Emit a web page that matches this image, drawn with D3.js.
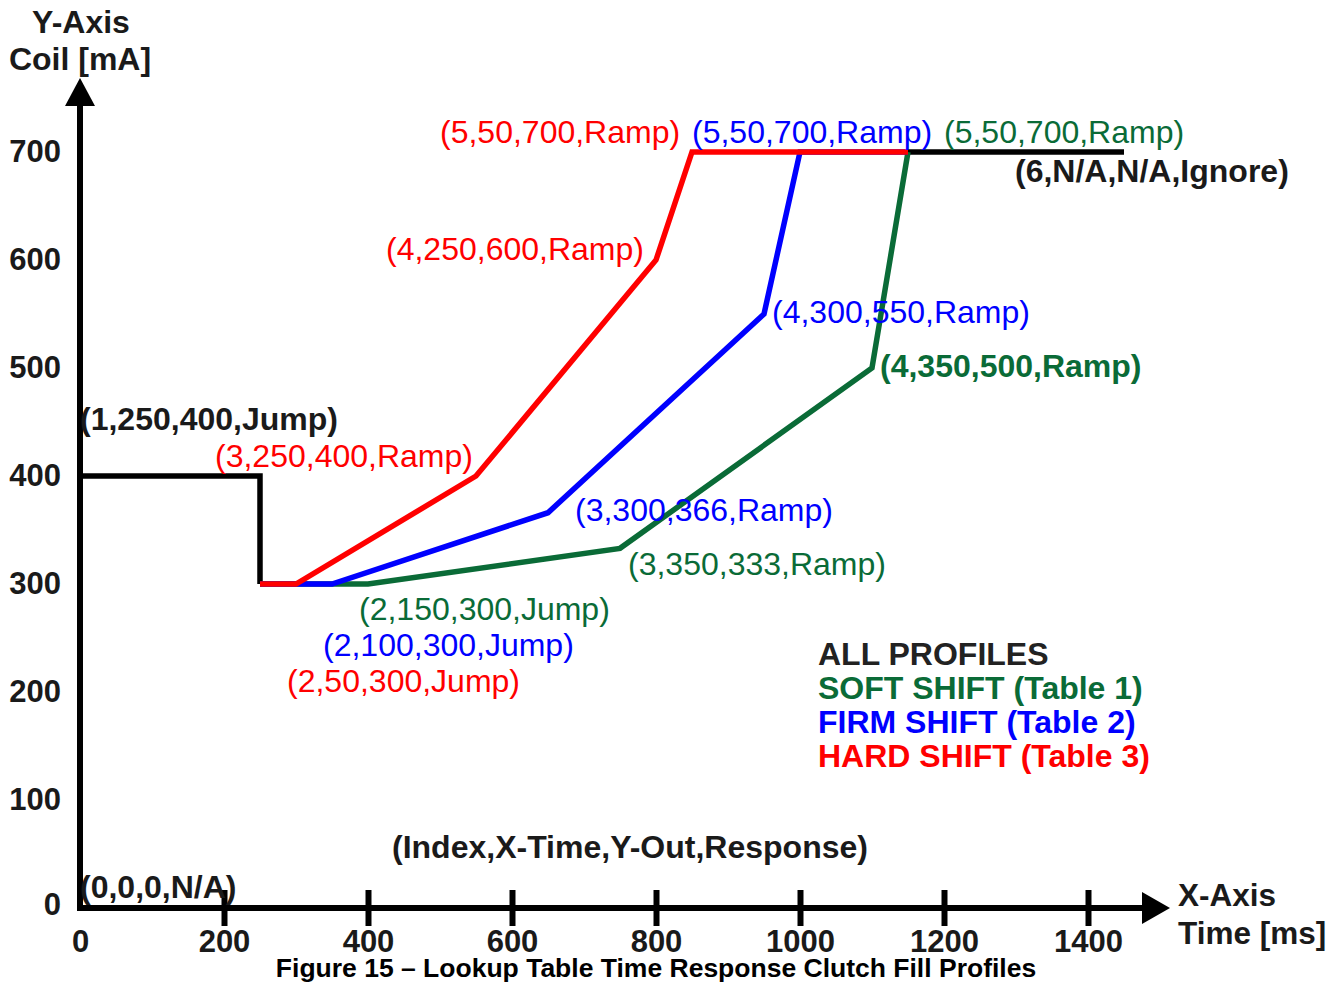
<!DOCTYPE html>
<html><head><meta charset="utf-8">
<script src="https://cdn.jsdelivr.net/npm/d3@7"></script>
<style>body{margin:0;background:#fff}svg{display:block}text{font-family:"Liberation Sans",Arial,sans-serif}</style>
</head><body>
<svg id="c" width="1343" height="984"></svg>
<script>
// ---- data ----
const xTicks = [0,200,400,600,800,1000,1200,1400];
const yTicks = [0,100,200,300,400,500,600,700];
const blackPre = [[0,0],[0,400],[250,400],[250,300]];
const blackPost = [[1150,700],[1450,700]];
const softShift = [[250,300],[400,300],[750,333],[1100,500],[1150,700]];
const firmShift = [[250,300],[350,300],[650,366],[950,550],[1000,700],[1150,700]];
const hardShift = [[250,300],[300,300],[550,400],[800,600],[850,700],[1150,700]];
const seriesColors = {soft:"#0a6b37", firm:"#0000ff", hard:"#ff0000", black:"#000"};
// annotation labels
const labels = [
  {t:"(0,0,0,N/A)", c:"black", b:true, x:80, y:898},
  {t:"(1,250,400,Jump)", c:"black", b:true, x:80, y:430},
  {t:"(3,250,400,Ramp)", c:"hard", b:false, x:215, y:467},
  {t:"(2,150,300,Jump)", c:"soft", b:false, x:359, y:620},
  {t:"(2,100,300,Jump)", c:"firm", b:false, x:323, y:656},
  {t:"(2,50,300,Jump)", c:"hard", b:false, x:287, y:692},
  {t:"(3,300,366,Ramp)", c:"firm", b:false, x:575, y:521},
  {t:"(3,350,333,Ramp)", c:"soft", b:false, x:628, y:575},
  {t:"(4,250,600,Ramp)", c:"hard", b:false, x:386, y:260},
  {t:"(4,300,550,Ramp)", c:"firm", b:false, x:772, y:323},
  {t:"(4,350,500,Ramp)", c:"soft", b:true, x:880, y:377},
  {t:"(5,50,700,Ramp)", c:"hard", b:false, x:440, y:143},
  {t:"(5,50,700,Ramp)", c:"firm", b:false, x:692, y:143},
  {t:"(5,50,700,Ramp)", c:"soft", b:false, x:944, y:143},
  {t:"(6,N/A,N/A,Ignore)", c:"black", b:true, x:1015, y:182},
  {t:"(Index,X-Time,Y-Out,Response)", c:"black", b:true, x:392, y:858}
];
const legend = [
  {t:"ALL PROFILES", c:"black", b:true},
  {t:"SOFT SHIFT (Table 1)", c:"soft", b:true},
  {t:"FIRM SHIFT (Table 2)", c:"firm", b:true},
  {t:"HARD SHIFT (Table 3)", c:"hard", b:true}
];

const svg = d3.select("#c");
const x = d3.scaleLinear().domain([0,1400]).range([80,1088]);
const y = d3.scaleLinear().domain([0,700]).range([908,152]);
const txtCol = k => k==="black" ? "#1a1a1a" : seriesColors[k];

// axes lines with arrows
svg.append("line").attr("x1",x(0)).attr("x2",x(0)).attr("y1",y(0)+3).attr("y2",100)
  .attr("stroke","#000").attr("stroke-width",6);
svg.append("path").attr("d",`M${x(0)},78 L${x(0)-15},106 L${x(0)+15},106 Z`).attr("fill","#000");
svg.append("line").attr("x1",x(0)-3).attr("x2",1145).attr("y1",y(0)).attr("y2",y(0))
  .attr("stroke","#000").attr("stroke-width",6);
svg.append("path").attr("d",`M1170,${y(0)} L1142,${y(0)-16} L1142,${y(0)+16} Z`).attr("fill","#000");

// x axis ticks via d3 axis
const xa = svg.append("g").attr("transform",`translate(0,${y(0)})`)
  .call(d3.axisBottom(x).tickValues(xTicks).tickSize(18).tickPadding(4).tickFormat(d3.format("d")));
xa.select(".domain").remove();
xa.selectAll(".tick line").attr("y1",-18).attr("y2",18).attr("stroke","#000").attr("stroke-width",6)
  .filter(d=>d===0).remove();
xa.selectAll(".tick text").attr("font-size",31).attr("font-weight","bold").attr("fill","#1a1a1a")
  .attr("font-family","Liberation Sans, Arial, sans-serif").attr("dy","0.71em");

const ya = svg.append("g").attr("transform",`translate(${x(0)},0)`)
  .call(d3.axisLeft(y).tickValues(yTicks).tickSize(0).tickPadding(19).tickFormat(d3.format("d")));
ya.select(".domain").remove();
ya.selectAll(".tick text").attr("font-size",31).attr("font-weight","bold").attr("fill","#1a1a1a")
  .attr("font-family","Liberation Sans, Arial, sans-serif");
ya.selectAll(".tick").filter(d=>d===0).select("text").attr("dy","0.22em");

// data lines
const line = d3.line().x(d=>x(d[0])).y(d=>y(d[1]));
function draw(data,col){
  svg.append("path").attr("d",line(data)).attr("fill","none").attr("stroke",col)
    .attr("stroke-width",5.5).attr("stroke-linejoin","miter");
}
draw(blackPre,"#000");
draw(blackPost,"#000");
draw(softShift,seriesColors.soft);
draw(firmShift,seriesColors.firm);
draw(hardShift,seriesColors.hard);

// axis titles
svg.append("text").attr("x",81).attr("y",33).attr("text-anchor","middle").attr("font-size",32)
  .attr("font-weight","bold").attr("fill","#1a1a1a").text("Y-Axis");
svg.append("text").attr("x",80).attr("y",70).attr("text-anchor","middle").attr("font-size",32)
  .attr("font-weight","bold").attr("fill","#1a1a1a").text("Coil [mA]");
svg.append("text").attr("x",1178).attr("y",906).attr("font-size",31.5)
  .attr("font-weight","bold").attr("fill","#1a1a1a").text("X-Axis");
svg.append("text").attr("x",1178).attr("y",944).attr("font-size",31.5)
  .attr("font-weight","bold").attr("fill","#1a1a1a").text("Time [ms]");

// annotations
labels.forEach(l=>{
  svg.append("text").attr("x",l.x).attr("y",l.y).attr("font-size",32)
    .attr("font-weight",l.b?"bold":"normal").attr("fill",txtCol(l.c)).text(l.t);
});
legend.forEach((l,i)=>{
  svg.append("text").attr("x",818).attr("y",665+i*34).attr("font-size",32)
    .attr("font-weight",l.b?"bold":"normal").attr("fill",l.c==="black"?"#222":txtCol(l.c)).text(l.t);
});

// caption
svg.append("text").attr("x",656).attr("y",977).attr("text-anchor","middle").attr("font-size",26.5)
  .attr("font-weight","bold").attr("fill","#000")
  .text("Figure 15 \u2013 Lookup Table Time Response Clutch Fill Profiles");
</script>
</body></html>
